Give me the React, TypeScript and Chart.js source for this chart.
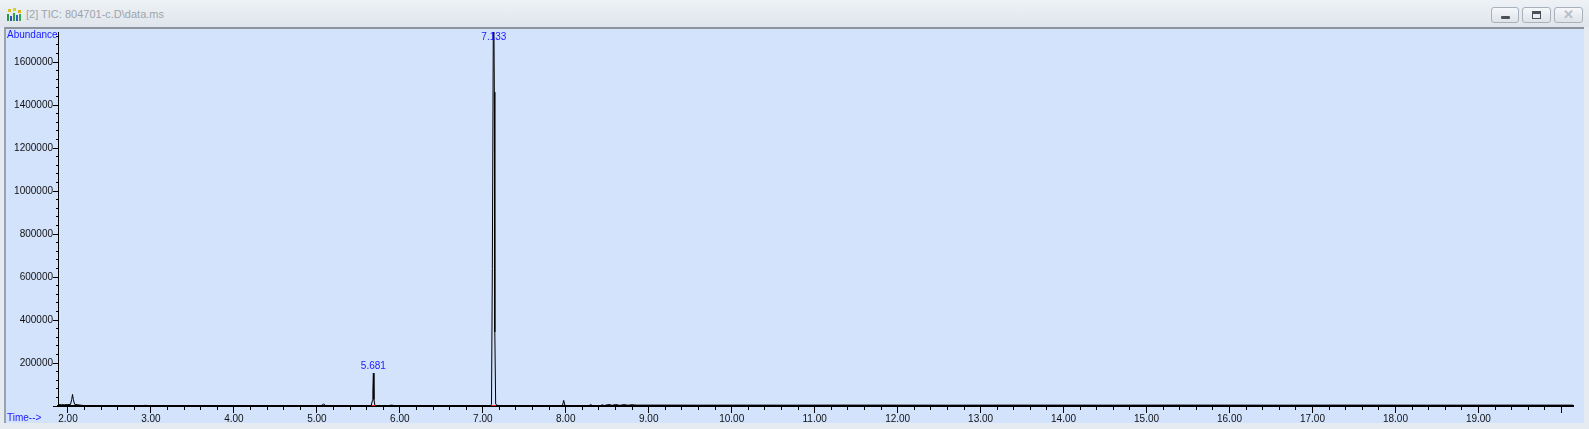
import { useEffect, useRef } from "react";
import Chart from "chart.js/auto";

// TIC trace: retention time (min) / abundance
const scanTimes = [
  1.88, 1.92, 1.96, 2.0, 2.03, 2.045, 2.055, 2.065, 2.08, 2.11, 2.15, 2.2, 2.4, 2.7, 2.92, 2.93, 2.94,
  3.2, 3.6, 4.0, 4.4, 4.8, 5.05, 5.08, 5.11, 5.3, 5.5, 5.655, 5.668, 5.675, 5.681, 5.688, 5.7, 5.85,
  5.9, 5.95, 6.2, 6.6, 7.0, 7.09, 7.105, 7.115, 7.127, 7.133, 7.139, 7.145, 7.155, 7.17, 7.2, 7.3,
  7.6, 7.9, 7.96, 7.975, 7.99, 8.1, 8.28, 8.3, 8.32, 8.42, 8.44, 8.46, 8.52, 8.56, 8.6, 8.65, 8.7,
  8.75, 8.8, 8.85, 9.2, 9.6, 10.1, 10.7, 11.3, 12.0, 12.6, 13.3, 14.0, 14.6, 15.3, 16.0, 16.6, 17.3,
  18.0, 18.6, 19.3, 19.9, 20.14,
];
const abundance = [
  7000, 6000, 6000, 6500, 7000, 30000, 54000, 30000, 8000, 6000, 4000, 1500, 800, 800, 900, 5000, 900,
  700, 800, 700, 800, 700, 900, 9000, 900, 800, 900, 1500, 24000, 70000, 153000, 30000, 1500, 900,
  4000, 900, 800, 800, 900, 1500, 8000, 640000, 1800000, 1850000, 1460000, 344000, 9000, 4000, 1500, 1000,
  900, 1000, 2000, 26000, 2500, 1200, 1200, 7000, 1500, 1500, 6000, 2000, 7000, 3000, 7000, 3000, 6500,
  3500, 6000, 4000, 4200, 3800, 4100, 3900, 4200, 4000, 3800, 4100, 4000, 3900, 4200, 4000, 3800, 4100,
  4000, 3900, 4100, 4000, 4000,
];

const peakTimes = [5.681, 7.133];
const peakApex = [153000, 1850000];
const peakLabels = ["5.681", "7.133"];

// red integration marks under the labelled peaks
const integrationStart = [5.662, 7.103];
const integrationEnd = [5.702, 7.158];

const timeTickLabels = [
  "2.00", "3.00", "4.00", "5.00", "6.00", "7.00", "8.00", "9.00", "10.00", "11.00",
  "12.00", "13.00", "14.00", "15.00", "16.00", "17.00", "18.00", "19.00",
];
const abundanceTickLabels = [
  "200000", "400000", "600000", "800000", "1000000", "1200000", "1400000", "1600000",
];

const X_MIN = 1.88;
const X_MAX = 20.14;
const Y_MAX = 1740000;

const timeTicks: number[] = [];
for (let i = 10; i <= 100; i++) timeTicks.push(i / 5);
const abundanceTicks: number[] = [];
for (let i = 0; i <= 43; i++) abundanceTicks.push(i * 40000);

const FONT = '"Liberation Sans", Arial, sans-serif';
const BLUE = "#1a1aff";

const annotations = {
  id: "ticAnnotations",
  afterDatasetsDraw(chart: any) {
    const { ctx, chartArea, scales } = chart;
    ctx.save();
    ctx.font = `10px ${FONT}`;
    ctx.fillStyle = BLUE;
    ctx.textAlign = "center";
    ctx.textBaseline = "bottom";
    peakTimes.forEach((t, i) => {
      const x = scales.x.getPixelForValue(t);
      const y = Math.max(scales.y.getPixelForValue(peakApex[i]) - 1.5, chartArea.top + 10.5);
      ctx.fillText(peakLabels[i], x, y);
    });
    ctx.textAlign = "left";
    ctx.textBaseline = "middle";
    ctx.fillText("Abundance", 7, 35);
    ctx.fillText("Time-->", 7, 418);
    ctx.restore();
  },
};

function TicChart() {
  const canvasRef = useRef<HTMLCanvasElement>(null);

  useEffect(() => {
    if (!canvasRef.current) return;

    const trace = scanTimes.map((t, i) => ({ x: t, y: abundance[i] }));
    const marks = integrationStart.flatMap((s, i) => [
      { x: s, y: 0 },
      { x: integrationEnd[i], y: 0 },
      { x: integrationEnd[i], y: null },
    ]);

    const chart = new Chart(canvasRef.current, {
      type: "line",
      data: {
        datasets: [
          {
            data: marks as any,
            borderColor: "#ff2020",
            borderWidth: 2,
            pointRadius: 0,
            spanGaps: false,
            order: 0,
          },
          {
            data: trace,
            borderColor: "#000000",
            borderWidth: 1,
            pointRadius: 0,
            tension: 0,
            order: 1,
          },
        ],
      },
      options: {
        animation: false,
        responsive: true,
        maintainAspectRatio: false,
        layout: { padding: { left: 0, top: 32, right: 16, bottom: 6 } },
        plugins: { legend: { display: false }, tooltip: { enabled: false } },
        scales: {
          x: {
            type: "linear",
            min: X_MIN,
            max: X_MAX,
            afterBuildTicks: (s: any) => {
              s.ticks = timeTicks.map((v) => ({ value: v }));
            },
            afterFit: (s: any) => {
              s.height = 17;
            },
            ticks: {
              autoSkip: false,
              maxRotation: 0,
              padding: 0,
              color: "#111",
              font: { family: FONT, size: 10 },
              callback: (v: any) => {
                const lbl = Number(v).toFixed(2);
                return timeTickLabels.includes(lbl) ? lbl : "";
              },
            },
            grid: {
              drawOnChartArea: false,
              drawTicks: true,
              tickLength: 7,
              tickColor: "#000",
              tickWidth: 1,
              tickBorderDash: (ctx: any) =>
                Number.isInteger(ctx.tick?.value) ? [] : [3, 20],
            },
            border: { display: true, color: "#000", width: 2 },
          },
          y: {
            type: "linear",
            min: 0,
            max: Y_MAX,
            afterBuildTicks: (s: any) => {
              s.ticks = abundanceTicks.map((v) => ({ value: v }));
            },
            afterFit: (s: any) => {
              s.width = 58;
            },
            ticks: {
              autoSkip: false,
              padding: 0,
              color: "#111",
              font: { family: FONT, size: 10 },
              callback: (v: any) => {
                const lbl = String(v);
                return abundanceTickLabels.includes(lbl) ? lbl : "";
              },
            },
            grid: {
              drawOnChartArea: false,
              drawTicks: true,
              tickLength: 5,
              tickColor: "#000",
              tickWidth: 1,
              tickBorderDash: (ctx: any) =>
                ctx.tick && ctx.tick.value % 200000 === 0 ? [] : [0, 3, 2, 20],
            },
            border: { display: true, color: "#000", width: 1 },
          },
        },
      },
      plugins: [annotations],
    });

    return () => chart.destroy();
  }, []);

  return (
    <div style={{ position: "absolute", left: 0, top: 0, width: 1589, height: 429 }}>
      <canvas ref={canvasRef} />
    </div>
  );
}

const btn: React.CSSProperties = {
  position: "absolute",
  top: 7,
  width: 28,
  height: 16,
  boxSizing: "border-box",
  border: "1px solid #a7b0bb",
  borderRadius: 3,
  background: "linear-gradient(#f5f7fa, #dde3ea)",
};

export default function App() {
  useEffect(() => {
    document.body.style.margin = "0";
    document.body.style.background = "#e5eaf0";
  }, []);

  return (
    <div
      style={{
        position: "relative",
        width: 1589,
        height: 429,
        overflow: "hidden",
        background: "#e6ebf1",
        fontFamily: FONT,
      }}
    >
      {/* title bar */}
      <div
        style={{
          position: "absolute",
          left: 0,
          top: 0,
          width: 1589,
          height: 27,
          background: "linear-gradient(#eef2f6, #dfe5ec)",
        }}
      >
        <svg width="17" height="13" style={{ position: "absolute", left: 6, top: 8 }}>
          <rect x="2" y="1" width="3" height="3" fill="#d8c020" />
          <rect x="7" y="0" width="3" height="3" fill="#c8d830" />
          <rect x="12" y="2" width="3" height="3" fill="#e0b020" />
          <rect x="1" y="6" width="2" height="7" fill="#2a9a3a" />
          <rect x="4" y="8" width="2" height="5" fill="#3050c0" />
          <rect x="7" y="5" width="2" height="8" fill="#30a040" />
          <rect x="10" y="7" width="2" height="6" fill="#2a60c8" />
          <rect x="13" y="6" width="2" height="7" fill="#38a848" />
        </svg>
        <div
          style={{
            position: "absolute",
            left: 26,
            top: 8,
            fontSize: 11,
            lineHeight: "13px",
            color: "#9ea4ac",
            whiteSpace: "nowrap",
          }}
        >
          [2] TIC: 804701-c.D\data.ms
        </div>
        <div style={{ ...btn, left: 1491 }}>
          <div
            style={{
              position: "absolute",
              left: 9,
              top: 8,
              width: 9,
              height: 3,
              background: "#4a5058",
              borderRadius: 1,
            }}
          />
        </div>
        <div style={{ ...btn, left: 1522, width: 29 }}>
          <div
            style={{
              position: "absolute",
              left: 9,
              top: 3,
              width: 9,
              height: 8,
              boxSizing: "border-box",
              border: "1px solid #4a5058",
              borderTopWidth: 3,
              background: "#e9edf2",
            }}
          />
        </div>
        <div
          style={{
            ...btn,
            left: 1554,
            width: 29,
            color: "#b8bec6",
            fontSize: 13,
            fontWeight: "bold",
            lineHeight: "14px",
            textAlign: "center",
          }}
        >
          ✕
        </div>
      </div>

      {/* plot panel */}
      <div
        style={{
          position: "absolute",
          left: 4,
          top: 27,
          width: 1580,
          height: 396,
          boxSizing: "border-box",
          borderLeft: "2px solid #9aa2ab",
          borderTop: "2px solid #8c939b",
          background: "#d3e3fc",
        }}
      />

      <TicChart />
    </div>
  );
}
